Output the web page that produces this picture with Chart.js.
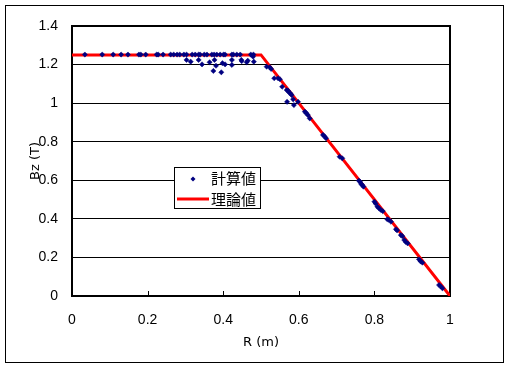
<!DOCTYPE html>
<html>
<head>
<meta charset="utf-8">
<script src="https://cdn.jsdelivr.net/npm/chart.js@4.4.1/dist/chart.umd.min.js"></script>
<style>
html, body { margin: 0; padding: 0; background: #fff; }
</style>
</head>
<body>
<canvas id="bzChart" width="511" height="369"></canvas>
<script>
// 計算値 (scatter)
const calcR = [
  0.034, 0.080, 0.109, 0.130, 0.148, 0.177, 0.182, 0.195, 0.224, 0.228,
  0.241, 0.261, 0.269, 0.278, 0.285, 0.296, 0.303, 0.318, 0.326, 0.335,
  0.339, 0.350, 0.357, 0.370, 0.376, 0.383, 0.392, 0.401, 0.405, 0.423,
  0.427, 0.436, 0.445, 0.473, 0.480,
  0.303, 0.314, 0.335, 0.344, 0.364, 0.374, 0.377, 0.381, 0.395, 0.398,
  0.405, 0.423, 0.423, 0.448, 0.449, 0.462, 0.465, 0.481, 0.479,
  0.515, 0.523, 0.527, 0.535, 0.545, 0.550, 0.556, 0.568, 0.572, 0.575,
  0.578, 0.581, 0.569, 0.585, 0.587, 0.598, 0.616, 0.620, 0.624, 0.629,
  0.664, 0.668, 0.672, 0.708, 0.715, 0.759, 0.762, 0.765, 0.768, 0.771,
  0.800, 0.803, 0.808, 0.812, 0.817, 0.822, 0.834, 0.838, 0.844, 0.857,
  0.860, 0.870, 0.874, 0.879, 0.883, 0.888, 0.918, 0.922, 0.927, 0.971,
  0.975, 0.980
];
const calcBz = [
  1.252, 1.252, 1.252, 1.252, 1.252, 1.252, 1.252, 1.252, 1.252, 1.252,
  1.252, 1.252, 1.252, 1.252, 1.252, 1.252, 1.252, 1.252, 1.252, 1.252,
  1.252, 1.252, 1.252, 1.252, 1.252, 1.252, 1.252, 1.252, 1.252, 1.252,
  1.252, 1.252, 1.252, 1.252, 1.252,
  1.224, 1.215, 1.224, 1.201, 1.212, 1.167, 1.224, 1.194, 1.160, 1.207,
  1.201, 1.224, 1.198, 1.224, 1.218, 1.212, 1.220, 1.215, 1.241,
  1.189, 1.186, 1.177, 1.129, 1.129, 1.124, 1.085, 1.068, 1.064, 1.054,
  1.050, 1.042, 1.007, 1.020, 0.990, 1.007, 0.956, 0.948, 0.938, 0.921,
  0.835, 0.828, 0.818, 0.722, 0.714, 0.598, 0.592, 0.581, 0.575, 0.567,
  0.489, 0.480, 0.463, 0.455, 0.446, 0.440, 0.398, 0.395, 0.385, 0.346,
  0.340, 0.316, 0.310, 0.290, 0.280, 0.273, 0.190, 0.180, 0.173, 0.057,
  0.050, 0.040
];

// 理論値 (line)
const theoryR = [0, 0.5, 1];
const theoryBz = [1.25, 1.25, 0];

const xTickValues = [0, 0.2, 0.4, 0.6, 0.8, 1];
const yTickValues = [0, 0.2, 0.4, 0.6, 0.8, 1, 1.2, 1.4];
const legendLabels = ["計算値", "理論値"];

const pointColor = "#000080";
const lineColor = "#ff0000";

// 外枠・プロット枠・目盛り・凡例
const framePlugin = {
  id: "frame",
  beforeDatasetsDraw(chart) {
    const ctx = chart.ctx;
    const a = chart.chartArea;
    const xs = chart.scales.x;
    ctx.save();
    ctx.strokeStyle = "#000";
    ctx.lineWidth = 1;
    xs.ticks.forEach(t => {
      const px = Math.round(xs.getPixelForValue(t.value)) + 0.5;
      ctx.beginPath();
      ctx.moveTo(px, a.bottom);
      ctx.lineTo(px, a.bottom - 5);
      ctx.stroke();
    });
    ctx.lineWidth = 2;
    ctx.strokeRect(a.left, a.top, a.right - a.left, a.bottom - a.top);
    ctx.restore();
  },
  afterDraw(chart) {
    const ctx = chart.ctx;
    ctx.save();
    // outer frame
    ctx.strokeStyle = "#000";
    ctx.lineWidth = 1;
    ctx.strokeRect(5.5, 5.5, 498, 357);

    // legend
    const lx = 174, ly = 167, lw = 86, lh = 41;
    ctx.fillStyle = "#fff";
    ctx.fillRect(lx, ly, lw, lh);
    ctx.strokeRect(lx + 0.5, ly + 0.5, lw, lh);

    ctx.fillStyle = pointColor;
    ctx.beginPath();
    ctx.moveTo(193, 176.5);
    ctx.lineTo(195.5, 179);
    ctx.lineTo(193, 181.5);
    ctx.lineTo(190.5, 179);
    ctx.closePath();
    ctx.fill();

    ctx.strokeStyle = lineColor;
    ctx.lineWidth = 3;
    ctx.beginPath();
    ctx.moveTo(177, 199);
    ctx.lineTo(209, 199);
    ctx.stroke();

    ctx.fillStyle = "#000";
    ctx.font = '15px "Noto Sans CJK JP"';
    ctx.textBaseline = "middle";
    ctx.textAlign = "left";
    ctx.fillText(legendLabels[0], 211, 178);
    ctx.fillText(legendLabels[1], 211, 199);
    ctx.restore();
  }
};

const tickFont = { family: "Liberation Sans", size: 14 };
const titleFont = { family: "DejaVu Sans", size: 13 };

new Chart(document.getElementById("bzChart"), {
  type: "scatter",
  data: {
    datasets: [
      {
        label: legendLabels[0],
        data: calcR.map((r, i) => ({ x: r, y: calcBz[i] })),
        pointStyle: "rectRot",
        pointRadius: 2.6,
        backgroundColor: pointColor,
        borderColor: pointColor,
        borderWidth: 0.5
      },
      {
        type: "line",
        label: legendLabels[1],
        data: theoryR.map((r, i) => ({ x: r, y: theoryBz[i] })),
        borderColor: lineColor,
        borderWidth: 3,
        pointRadius: 0,
        fill: false,
        tension: 0
      }
    ]
  },
  options: {
    responsive: false,
    animation: false,
    layout: { padding: { left: 0, top: 26, right: 61, bottom: 0 } },
    plugins: {
      legend: { display: false },
      tooltip: { enabled: false }
    },
    scales: {
      x: {
        type: "linear",
        min: 0,
        max: 1,
        afterBuildTicks: s => { s.ticks = xTickValues.map(v => ({ value: v })); },
        afterFit: s => { s.height = 73; },
        grid: { display: false, drawTicks: false },
        border: { display: false },
        ticks: { color: "#000", font: tickFont, padding: 16, callback: v => String(v) },
        title: { display: true, text: "R (m)", color: "#000", font: titleFont, padding: { top: 0, bottom: 19 } }
      },
      y: {
        min: 0,
        max: 1.4,
        afterBuildTicks: s => { s.ticks = yTickValues.map(v => ({ value: v })); },
        afterFit: s => { s.width = 72; },
        grid: { color: "#000", lineWidth: 1, drawTicks: false },
        border: { display: false },
        ticks: { color: "#000", font: tickFont, padding: 14, callback: v => String(v) },
        title: { display: true, text: "Bz (T)", color: "#000", font: titleFont, padding: { top: 28, bottom: 0 } }
      }
    }
  },
  plugins: [framePlugin]
});
</script>
</body>
</html>
